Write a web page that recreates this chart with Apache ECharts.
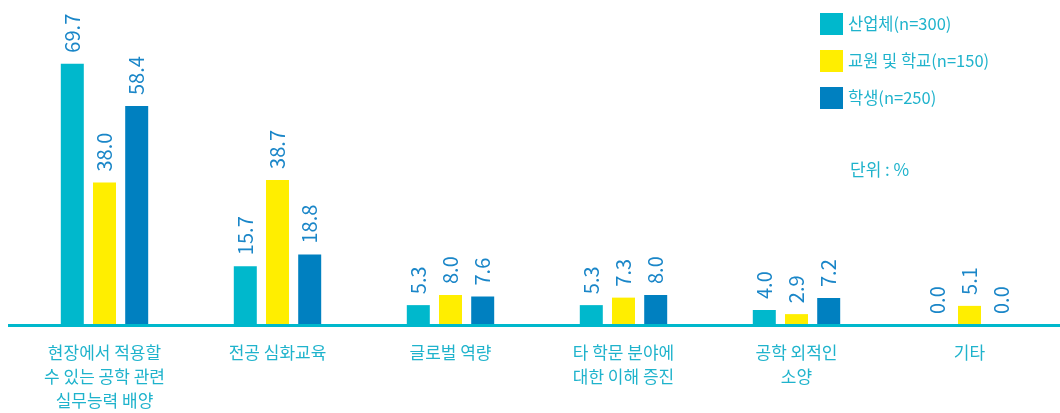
<!DOCTYPE html>
<html><head><meta charset="utf-8">
<script src="https://cdn.jsdelivr.net/npm/echarts@6/dist/echarts.min.js"></script>
<style>html,body{margin:0;padding:0;background:#fff}#c{width:1060px;height:413px}</style>
</head><body><div id="c"></div>
<script>
const categories = ['현장에서 적용할\n수 있는 공학 관련\n실무능력 배양', '전공 심화교육', '글로벌 역량', '타 학문 분야에\n대한 이해 증진', '공학 외적인\n소양', '기타'];
const seriesNames = ['산업체(n=300)', '교원 및 학교(n=150)', '학생(n=250)'];
const industry = [69.7, 15.7, 5.3, 5.3, 4.0, 0.0];
const faculty = [38.0, 38.7, 8.0, 7.3, 2.9, 5.1];
const students = [58.4, 18.8, 7.6, 8.0, 7.2, 0.0];
const colors = ['#00b8cc', '#ffee00', '#0080c0'];
const unitText = '단위 : %';

const font = '"Noto Sans CJK KR", "Noto Sans", sans-serif';
const chart = echarts.init(document.getElementById('c'));
const mk = (name, data, color) => ({
  name, type: 'bar', data, barWidth: 23, barGap: '40%',
  itemStyle: { color },
  label: {
    show: true, position: 'top', rotate: 90, distance: 11,
    align: 'left', verticalAlign: 'middle',
    formatter: p => p.value.toFixed(1),
    color: '#1a86c8', fontSize: 20, fontFamily: font
  }
});
chart.setOption({
  animation: false,
  textStyle: { fontFamily: font },
  title: { text: unitText, left: 845, top: 156, textStyle: { color: '#1fb3cc', fontSize: 17, fontWeight: 'normal', fontFamily: font } },
  legend: {
    orient: 'vertical', left: 815, top: 8, itemWidth: 23, itemHeight: 22, itemGap: 15,
    icon: 'rect', data: seriesNames,
    textStyle: { color: '#1fb3cc', fontSize: 16.5, fontFamily: font, padding: [0, 0, 0, 0] }
  },
  grid: { left: 18, right: 4, top: 25, bottom: 88, containLabel: false },
  xAxis: {
    type: 'category', data: categories,
    axisLine: { show: false }, axisTick: { show: false },
    axisLabel: { color: '#1fb3cc', fontSize: 17, lineHeight: 24, margin: 16, fontFamily: font, interval: 0 }
  },
  yAxis: { type: 'value', min: 0, max: 80, show: false, splitLine: { show: false } },
  graphic: [{ type: 'line', shape: { x1: 8, y1: 325.5, x2: 1060, y2: 325.5 }, style: { stroke: '#00b8cc', lineWidth: 3 }, z: 10 }],
  series: [mk(seriesNames[0], industry, colors[0]), mk(seriesNames[1], faculty, colors[1]), mk(seriesNames[2], students, colors[2])]
});
</script></body></html>
